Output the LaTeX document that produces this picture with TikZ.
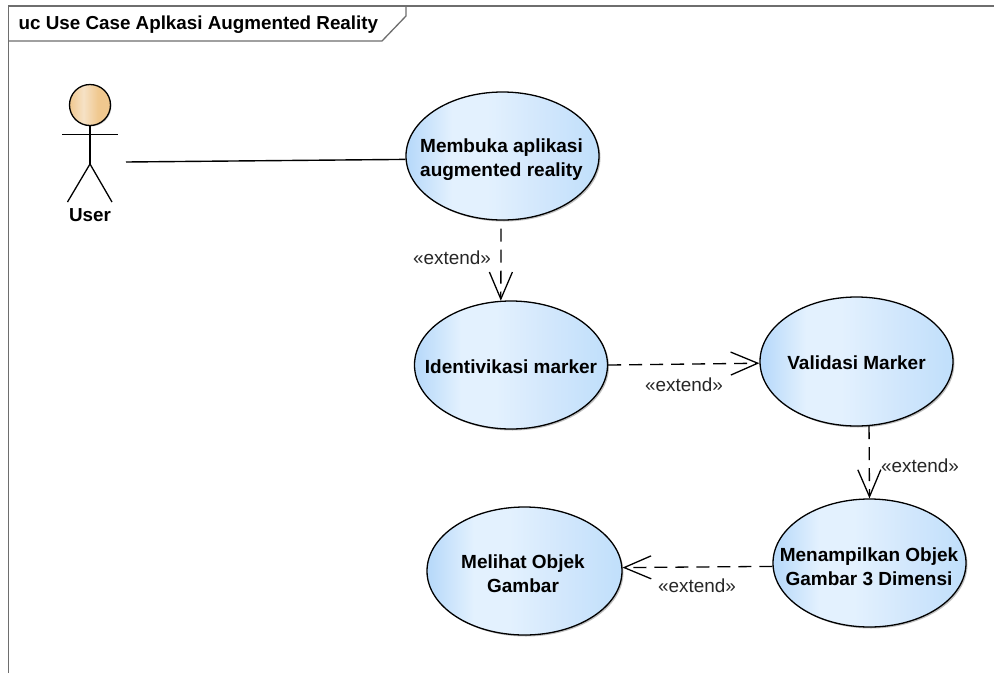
\documentclass[tikz,border=0pt]{standalone}
\usepackage{fontspec}
\setmainfont{Liberation Sans}
\usetikzlibrary{shapes.geometric,arrows.meta,shadows}
\definecolor{ucA}{HTML}{B9DAFA}
\definecolor{ucB}{HTML}{E3F1FE}
\definecolor{ucC}{HTML}{D2E7FC}
\definecolor{ucD}{HTML}{C0DFFB}
\definecolor{hdA}{HTML}{F6E2C6}
\definecolor{hdB}{HTML}{F0C88F}
\definecolor{frameGray}{HTML}{6E6E6E}
\pgfdeclarehorizontalshading{usecaseshade}{100bp}{
 color(0bp)=(ucA); color(26bp)=(ucA); color(37bp)=(ucB); color(46bp)=(ucB); color(60bp)=(ucC); color(75bp)=(ucD); color(100bp)=(ucD)}
\pgfdeclarehorizontalshading{headshade}{100bp}{
 color(0bp)=(hdB); color(25bp)=(hdB); color(42bp)=(hdA); color(60bp)=(hdB); color(100bp)=(hdB)}
% text that does not widen its ellipse: #1 = upward shift, #2 = horizontal shift
\newcommand{\uctext}[3]{\makebox[0pt][c]{\hspace*{#2}\smash{\raisebox{\dimexpr#1-6.7pt\relax}{\begin{tabular}{@{}c@{}}#3\end{tabular}}}}}
\tikzset{
 x=1pt,y=-1pt,
 usecase/.style={ellipse,draw=black,line width=1.3pt,shading=usecaseshade,inner sep=0pt,
   font=\fontsize{19}{24}\selectfont\bfseries,
   minimum width=193pt,minimum height=128pt,
   general shadow={shadow xshift=1.5pt,shadow yshift=-1.5pt,fill=black!25}},
 ext/.style={font=\fontsize{18.9}{22}\selectfont,text=black!85,inner sep=0pt},
 assoc/.style={line width=1.4pt,draw=black},
 dep/.style={line width=1.3pt,draw=black,dash pattern=on 13pt off 8pt,
   -{Straight Barb[length=27pt,width=23pt,line width=1.3pt]}},
 limb/.style={line width=1.3pt,draw=black},
 framed/.style={line width=1.3pt,draw=frameGray}
}
\begin{document}
\begin{tikzpicture}
\useasboundingbox (0,0) rectangle (994,673);
\fill[white] (0,0) rectangle (994,673);
% frame
\draw[framed] (8.7,673) -- (8.7,6) -- (994,6);
\draw[framed] (8.7,41) -- (382,41) -- (406,16) -- (406,6);
\node[anchor=west,inner sep=0pt,font=\fontsize{18.8}{22}\selectfont\bfseries] (title) at (18.5,24.5) {uc Use Case Aplkasi Augmented Reality};
% actor
\node[circle,draw=black,line width=1.3pt,shading=headshade,minimum size=41pt,inner sep=0pt,
  general shadow={shadow xshift=1pt,shadow yshift=-1pt,fill=black!20}] (head) at (90,105) {};
\coordinate (hip) at (90,164);
\coordinate (armL) at (62,134.5);
\coordinate (armR) at (118,134.5);
\coordinate (legL) at (67.5,202);
\coordinate (legR) at (112,202);
\draw[limb] (head.south) -- (hip);
\draw[limb] (armL) -- (armR);
\draw[limb] (legL) -- (hip) -- (legR);
\node[font=\fontsize{18.8}{22}\selectfont\bfseries,inner sep=0pt] (user) at (90,215) {User};
\coordinate (userR) at (126,162);
% use cases
\node[usecase] (e1) at (502.5,156) {\uctext{-1pt}{-2pt}{Membuka aplikasi\\augmented reality}};
\node[usecase] (e2) at (511,365) {\uctext{-1pt}{0pt}{Identivikasi marker}};
\node[usecase,minimum height=129pt] (e3) at (856.5,361.5) {\uctext{-1pt}{0pt}{Validasi Marker}};
\node[usecase] (e4) at (869.5,563) {\uctext{-3pt}{-1pt}{Menampilkan Objek\\Gambar 3 Dimensi}};
\node[usecase,minimum width=195pt] (e5) at (524.5,571) {\uctext{-2pt}{-3pt}{Melihat Objek\\Gambar}};
% connectors
\draw[assoc] (userR) -- (e1.182.4);
\draw[dep] ([xshift=-1.5pt,yshift=-8pt]e1.south) -- (e2.99);
\draw[dep] (e2.east) -- (e3.181);
\draw[dep] (e3.-79) -- (e4.north);
\draw[dep] (e4.182) -- (e5.2);
% labels
\node[ext] (l1) at (452,258) {«extend»};
\node[ext] (l2) at (684,385) {«extend»};
\node[ext] (l3) at (920,466) {«extend»};
\node[ext] (l4) at (697,585.5) {«extend»};
\end{tikzpicture}
\end{document}
